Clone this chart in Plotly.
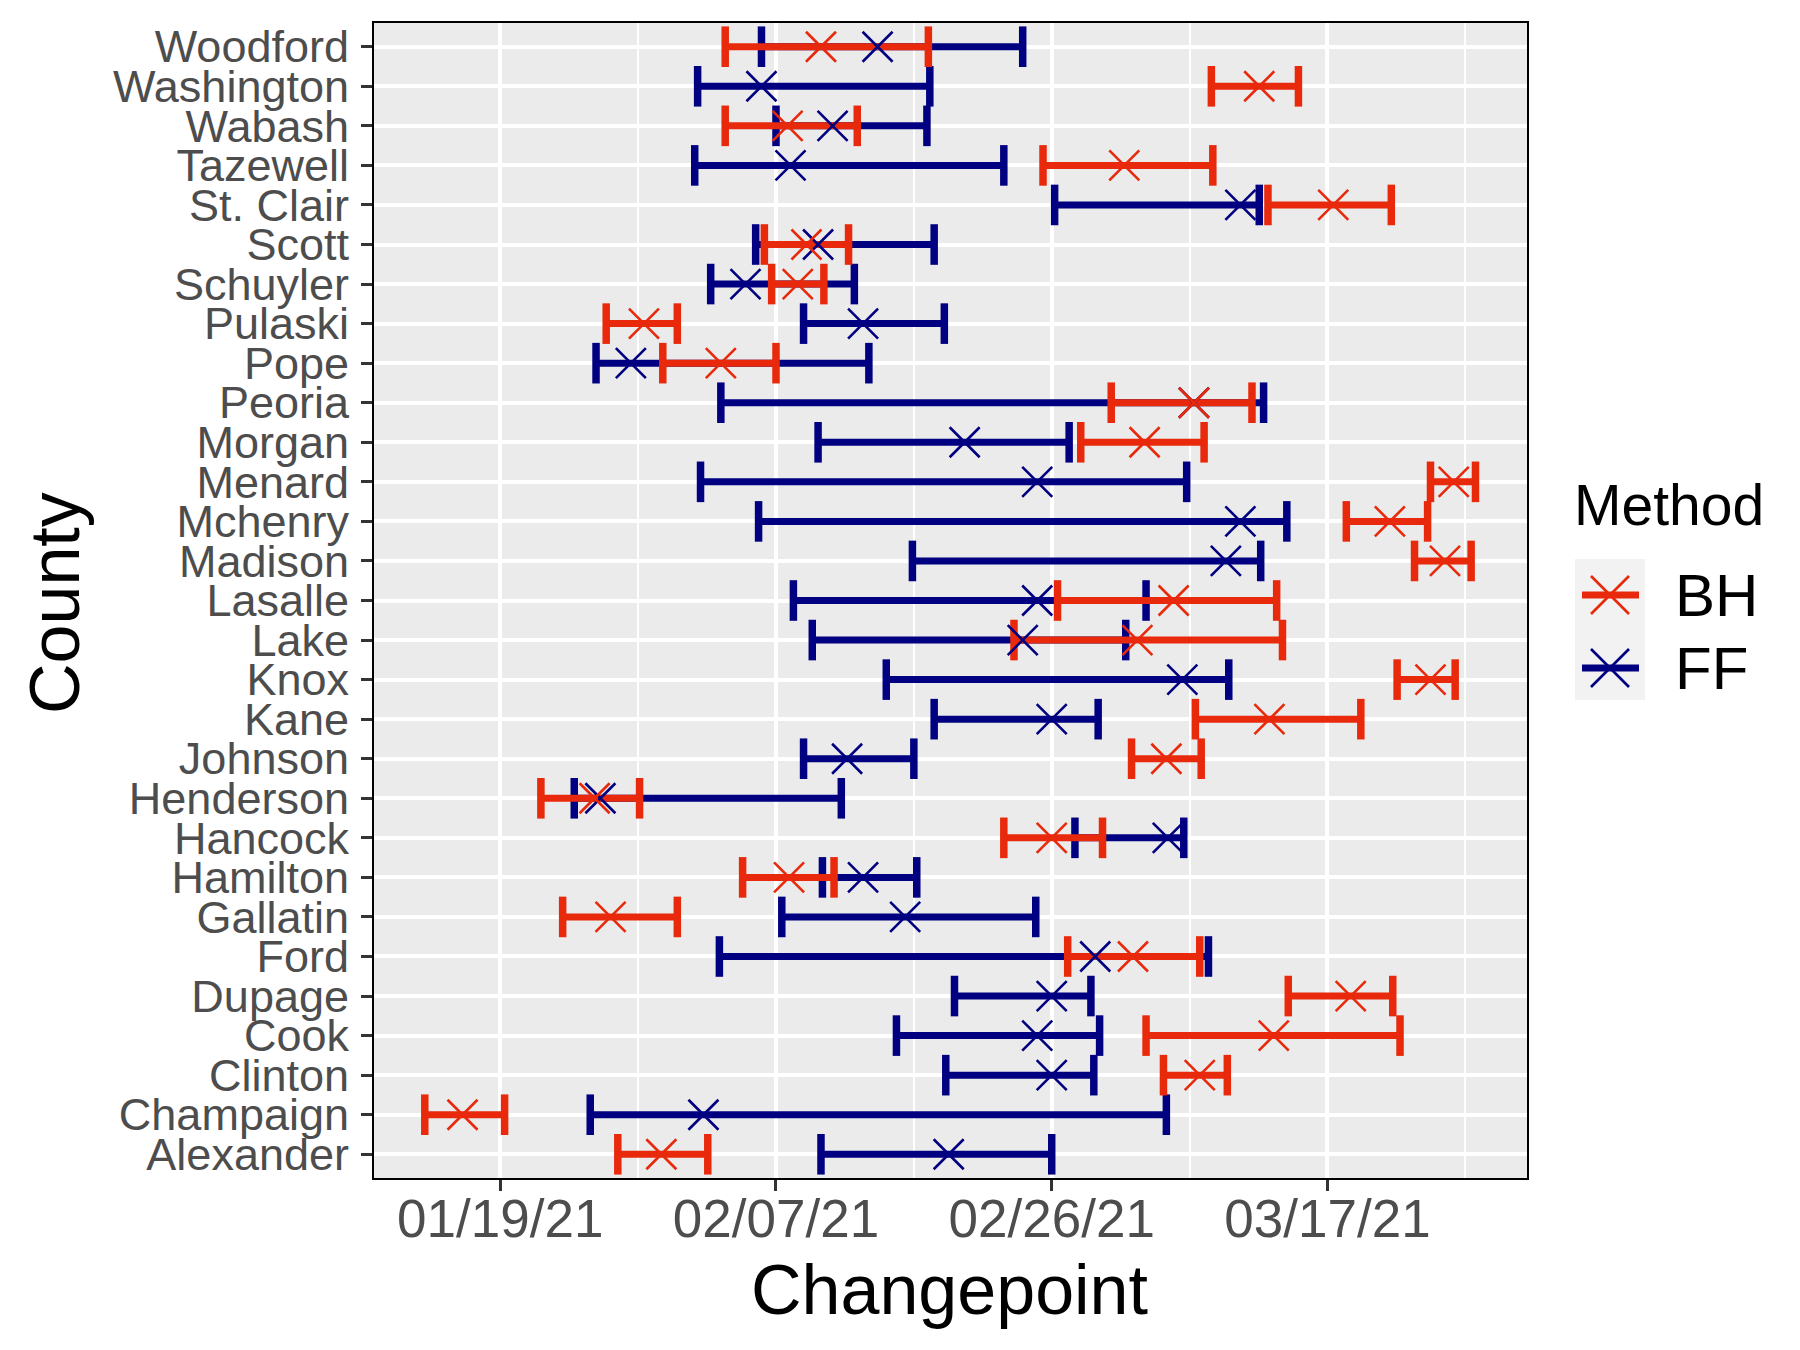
import numpy as np
import pandas as pd
import plotly.graph_objects as go

# ---- data (days after 2021-01-19) ----
counties = ["Woodford", "Washington", "Wabash", "Tazewell", "St. Clair", "Scott", "Schuyler",
            "Pulaski", "Pope", "Peoria", "Morgan", "Menard", "Mchenry", "Madison", "Lasalle",
            "Lake", "Knox", "Kane", "Johnson", "Henderson", "Hancock", "Hamilton", "Gallatin",
            "Ford", "Dupage", "Cook", "Clinton", "Champaign", "Alexander"]

bh_low = [15.5, 49.0, 15.5, 37.4, 52.9, 18.2, 18.7, 7.3, 11.2, 42.1, 40.0, 64.1, 58.3, 63.0, 38.4,
          35.4, 61.8, 47.9, 43.5, 2.8, 34.7, 16.7, 4.3, 39.1, 54.3, 44.5, 45.7, -5.2, 8.1]
bh_mid = [22.1, 52.3, 19.8, 43.0, 57.4, 21.1, 20.5, 9.9, 15.2, 47.8, 44.4, 65.7, 61.3, 65.1, 46.4,
          43.9, 64.1, 53.0, 45.9, 6.5, 38.0, 19.9, 7.6, 43.6, 58.6, 53.3, 48.2, -2.6, 11.1]
bh_high = [29.5, 55.0, 24.6, 49.1, 61.4, 24.0, 22.3, 12.2, 19.0, 51.8, 48.5, 67.2, 63.9, 66.9, 53.5,
           53.9, 65.8, 59.3, 48.3, 9.6, 41.5, 23.0, 12.2, 48.2, 61.5, 62.0, 50.1, 0.3, 14.3]

ff_low = [18.0, 13.6, 19.0, 13.4, 38.2, 17.6, 14.5, 20.9, 6.6, 15.2, 21.9, 13.8, 17.8, 28.4, 20.2,
          21.5, 26.6, 29.9, 20.9, 5.1, 39.6, 22.2, 19.4, 15.1, 31.3, 27.3, 30.7, 6.2, 22.1]
ff_mid = [26.0, 18.0, 22.9, 20.0, 51.0, 21.9, 16.9, 25.0, 9.0, 47.8, 32.0, 37.0, 51.0, 50.0, 37.0,
          36.0, 47.0, 38.0, 23.9, 6.9, 46.0, 25.0, 27.9, 41.0, 38.0, 37.0, 38.0, 14.0, 30.9]
ff_high = [36.0, 29.6, 29.4, 34.7, 52.3, 29.9, 24.4, 30.6, 25.4, 52.6, 39.2, 47.3, 54.2, 52.4, 44.5,
           43.1, 50.2, 41.2, 28.5, 23.5, 47.1, 28.7, 36.9, 48.8, 40.7, 41.3, 40.9, 45.9, 38.0]

methods = ["BH", "FF"]
colors = {"BH": "#E8290B", "FF": "#000080"}

BASE = pd.Timestamp("2021-01-19")


def to_date(v):
    return [(BASE + pd.Timedelta(days=float(d))).strftime("%Y-%m-%d %H:%M:%S") for d in v]


series = {
    "BH": (bh_low, bh_mid, bh_high),
    "FF": (ff_low, ff_mid, ff_high),
}

fig = go.Figure()

# interval lines and caps (FF first, then BH on top)
for m in ["FF", "BH"]:
    lo, mid, hi = series[m]
    lo_d, hi_d = to_date(lo), to_date(hi)
    xs, ys = [], []
    for c, a, b in zip(counties, lo_d, hi_d):
        xs += [a, b, None]
        ys += [c, c, None]
    fig.add_trace(go.Scatter(x=xs, y=ys, mode="lines", line=dict(color=colors[m], width=7),
                             showlegend=False, hoverinfo="skip"))
    fig.add_trace(go.Scatter(x=lo_d + hi_d, y=counties + counties, mode="markers",
                             marker=dict(symbol="line-ns-open", size=29, color=colors[m],
                                         line=dict(color=colors[m], width=7.5)),
                             showlegend=False, hoverinfo="skip"))

for m in ["FF", "BH"]:
    lo, mid, hi = series[m]
    fig.add_trace(go.Scatter(x=to_date(mid), y=counties, mode="markers", name=m,
                             marker=dict(symbol="x-thin-open", size=30, color=colors[m],
                                         line=dict(color=colors[m], width=2.6)),
                             showlegend=False))

# ---- layout (page body has an 8px margin) ----
OFF = 8
L, T = 374 - OFF, 23 - OFF
PW, PH = 1153, 1155
W, H = 1800 - 2 * OFF, 1350 - 2 * OFF
R, B = W - L - PW, H - T - PH
FONT = "Liberation Sans, Arial, sans-serif"


def px(x):  # page pixel -> paper
    return (x - OFF - L) / PW


def py(y):
    return 1 - (y - OFF - T) / PH


DAY = 86400000
fig.update_layout(
    width=W, height=H,
    margin=dict(l=L, r=R, t=T, b=B),
    paper_bgcolor="white", plot_bgcolor="#EBEBEB",
    font=dict(family=FONT),
    showlegend=False,
)
fig.update_xaxes(
    type="date",
    range=[to_date([-8.7])[0], to_date([70.75])[0]],
    tick0="2021-01-19", dtick=19 * DAY, tickformat="%m/%d/%y",
    showgrid=True, gridcolor="white", gridwidth=3.5,
    minor=dict(tick0="2021-01-19", dtick=9.5 * DAY, showgrid=True, gridcolor="white", gridwidth=1.8),
    ticks="outside", ticklen=11, tickwidth=2.5, tickcolor="#333333",
    tickfont=dict(size=53, color="#4D4D4D", family=FONT),
    ticklabelstandoff=-18,
    showline=True, linecolor="black", linewidth=2, mirror=True, zeroline=False,
)
fig.update_yaxes(
    type="category", categoryorder="array", categoryarray=list(reversed(counties)),
    tickmode="array", tickvals=counties, ticktext=counties,
    range=[-0.6, len(counties) - 0.4],
    showgrid=True, gridcolor="white", gridwidth=3.5,
    ticks="outside", ticklen=11, tickwidth=2.5, tickcolor="#333333",
    tickfont=dict(size=45, color="#4D4D4D", family=FONT),
    ticklabelstandoff=3,
    showline=True, linecolor="black", linewidth=2, mirror=True, zeroline=False,
)

annotations = [
    dict(text="Changepoint", x=px(949), y=py(1290), xref="paper", yref="paper",
         showarrow=False, font=dict(size=70, color="black", family=FONT), xanchor="center", yanchor="middle"),
    dict(text="County", x=px(55), y=py(603), xref="paper", yref="paper", textangle=-90,
         showarrow=False, font=dict(size=70, color="black", family=FONT), xanchor="center", yanchor="middle"),
    dict(text="Method", x=px(1572), y=py(505), xref="paper", yref="paper",
         showarrow=False, font=dict(size=57, color="black", family=FONT), xanchor="left", yanchor="middle"),
]
shapes = [
    dict(type="rect", xref="paper", yref="paper", x0=px(1575), x1=px(1645), y0=py(559), y1=py(700),
         fillcolor="#F2F2F2", line=dict(width=0), layer="above"),
]
for m, cy in zip(methods, [595, 668]):
    c = colors[m]
    shapes.append(dict(type="line", xref="paper", yref="paper", x0=px(1582), x1=px(1639),
                       y0=py(cy), y1=py(cy), line=dict(color=c, width=7)))
    for dy in (-19, 19):
        shapes.append(dict(type="line", xref="paper", yref="paper", x0=px(1610 - 19), x1=px(1610 + 19),
                           y0=py(cy - dy), y1=py(cy + dy), line=dict(color=c, width=2.6)))
    annotations.append(dict(text=m, x=px(1673), y=py(cy), xref="paper", yref="paper",
                            showarrow=False, font=dict(size=60, color="black", family=FONT),
                            xanchor="left", yanchor="middle"))

fig.update_layout(annotations=annotations, shapes=shapes)

fig.write_html("out.html")
